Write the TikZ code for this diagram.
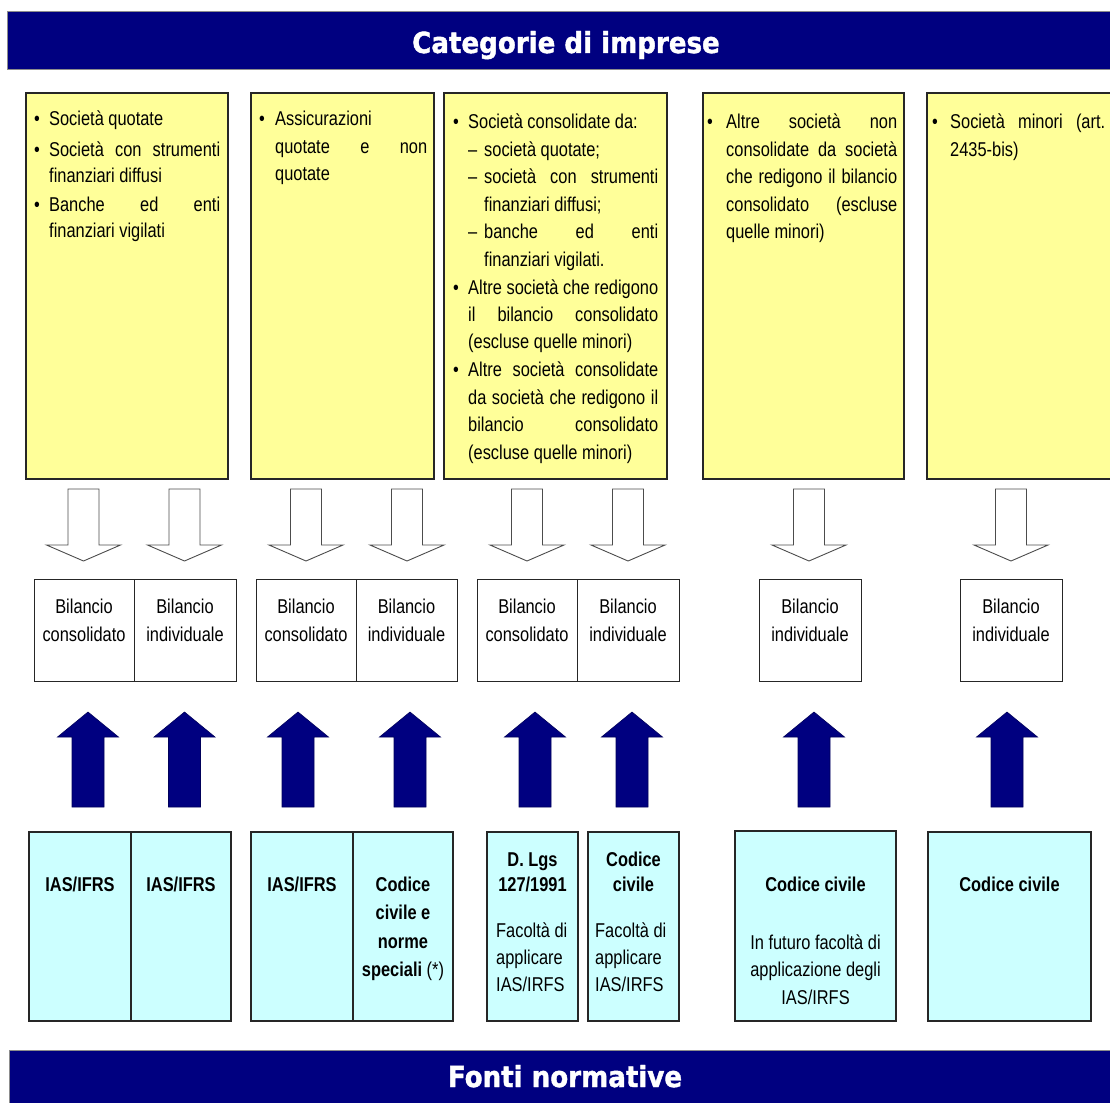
\documentclass[tikz,border=0pt]{standalone}
\usepackage{fontspec}
\setmainfont{Liberation Sans}
\newfontfamily\nf{Liberation Sans}[FakeStretch=0.82]
\newfontfamily\hf{DejaVu Sans Bold}[FakeBold=1.4, FakeStretch=0.9]
\definecolor{navy}{RGB}{0,0,128}
\definecolor{ylw}{RGB}{255,255,153}
\definecolor{cyn}{RGB}{204,255,255}
\newcommand{\bul}[1]{\makebox[#1][l]{\textbullet}}
\newcommand{\jus}[2]{\makebox[#1][s]{#2}}
\newcommand{\tl}[2]{\begin{tabular}[t]{@{}#1@{}}#2\end{tabular}}
\newcommand{\harr}[1]{\draw[harrow] (#1-15.5,489) -- (#1+15.5,489) -- (#1+15.5,545) -- (#1+37,545) -- (#1,561) -- (#1-37,545) -- (#1-15.5,545) -- cycle;}
\newcommand{\uarr}[1]{\draw[sarrow] (#1-16,807) -- (#1+16,807) -- (#1+16,737) -- (#1+30.5,737) -- (#1,712) -- (#1-30.5,737) -- (#1-16,737) -- cycle;}
\newcommand{\yfont}{\nf\fontsize{20}{27.5}\selectfont}
\tikzset{
 ybox/.style={fill=ylw, draw=black!85, line width=1.1pt},
 bbox/.style={fill=cyn, draw=black!85, line width=1.1pt},
 wbox/.style={fill=white, draw=black!85, line width=1pt},
 harrow/.style={fill=white, draw=black!70, line width=0.9pt, line join=miter},
 sarrow/.style={fill=navy, draw=navy!70!black, line width=0.6pt, line join=miter},
 banner/.style={fill=navy, draw=black!45, line width=0.8pt},
 txt/.style={inner sep=0pt, anchor=base, font=\nf\fontsize{20}{28}\selectfont},
 btxt/.style={txt, font=\nf\bfseries\fontsize{20}{25}\selectfont},
 htxt/.style={inner sep=0pt, anchor=base, text=white, font=\hf\fontsize{29}{32}\selectfont},
}
\begin{document}
\begin{tikzpicture}[x=1pt,y=-1pt]
\useasboundingbox (0,0) rectangle (1110,1102);
% banners
\draw[banner] (7,11) rectangle (1112,69);
\node[htxt] (title) at (566,53) {Categorie di imprese};
\draw[banner] (9,1050) rectangle (1112,1110);
\node[htxt] (fonti) at (565,1087) {Fonti normative};
% yellow boxes
\draw[ybox] (26,93) rectangle (228,479);
\draw[ybox] (251,93) rectangle (434,479);
\draw[ybox] (444,93) rectangle (667,479);
\draw[ybox] (703,93) rectangle (904,479);
\draw[ybox] (927,93) rectangle (1112,479);
\node[txt, anchor=base west] (y1) at (34,126) {\begin{minipage}[t]{186pt}\nf\fontsize{20}{25.5}\selectfont
\bul{15pt}Società quotate\\[5.5pt]
\bul{15pt}\jus{171pt}{Società con strumenti}\\
\hspace*{15pt}finanziari diffusi\\[4pt]
\bul{15pt}\jus{171pt}{Banche ed enti}\\
\hspace*{15pt}finanziari vigilati
\end{minipage}};
\node[txt, anchor=base west] (y2) at (259,126) {\begin{minipage}[t]{168pt}\yfont
\bul{16pt}Assicurazioni\\
\hspace*{16pt}\jus{152pt}{quotate e non}\\
\hspace*{16pt}quotate
\end{minipage}};
\node[txt, anchor=base west] (y3) at (453,129) {\begin{minipage}[t]{205pt}\yfont
\bul{15pt}Società consolidate da:\\
\hspace*{15pt}\makebox[16pt][l]{–}società quotate;\\
\hspace*{15pt}\makebox[16pt][l]{–}\jus{174pt}{società con strumenti}\\
\hspace*{31pt}finanziari diffusi;\\
\hspace*{15pt}\makebox[16pt][l]{–}\jus{174pt}{banche ed enti}\\
\hspace*{31pt}finanziari vigilati.\\
\bul{15pt}\jus{190pt}{Altre società che redigono}\\
\hspace*{15pt}\jus{190pt}{il bilancio consolidato}\\
\hspace*{15pt}(escluse quelle minori)\\
\bul{15pt}\jus{190pt}{Altre società consolidate}\\
\hspace*{15pt}\jus{190pt}{da società che redigono il}\\
\hspace*{15pt}\jus{190pt}{bilancio consolidato}\\
\hspace*{15pt}(escluse quelle minori)
\end{minipage}};
\node[txt, anchor=base west] (y4) at (707,129) {\begin{minipage}[t]{190pt}\yfont
\bul{19pt}\jus{171pt}{Altre società non}\\
\hspace*{19pt}\jus{171pt}{consolidate da società}\\
\hspace*{19pt}\jus{171pt}{che redigono il bilancio}\\
\hspace*{19pt}\jus{171pt}{consolidato (escluse}\\
\hspace*{19pt}quelle minori)
\end{minipage}};
\node[txt, anchor=base west] (y5) at (932,129) {\begin{minipage}[t]{173pt}\yfont
\bul{18pt}\jus{155pt}{Società minori (art.}\\
\hspace*{18pt}2435-bis)
\end{minipage}};
% hollow arrows
\harr{83.5}\harr{184.5}\harr{306}\harr{407}\harr{527}\harr{628}\harr{809}\harr{1011}
% bilancio boxes
\draw[wbox] (34,579) rectangle (236,681); \draw[black!85, line width=1pt] (134,579) -- (134,681);
\draw[wbox] (256,579) rectangle (457,681); \draw[black!85, line width=1pt] (356,579) -- (356,681);
\draw[wbox] (477,579) rectangle (679,681); \draw[black!85, line width=1pt] (577,579) -- (577,681);
\draw[wbox] (759,579) rectangle (861,681);
\draw[wbox] (960,579) rectangle (1062,681);
\node[txt] (b1) at (84,613) {\tl{c}{Bilancio\\consolidato}};
\node[txt] (b2) at (185,613) {\tl{c}{Bilancio\\individuale}};
\node[txt] (b3) at (306,613) {\tl{c}{Bilancio\\consolidato}};
\node[txt] (b4) at (406.5,613) {\tl{c}{Bilancio\\individuale}};
\node[txt] (b5) at (527,613) {\tl{c}{Bilancio\\consolidato}};
\node[txt] (b6) at (628,613) {\tl{c}{Bilancio\\individuale}};
\node[txt] (b7) at (810,613) {\tl{c}{Bilancio\\individuale}};
\node[txt] (b8) at (1011,613) {\tl{c}{Bilancio\\individuale}};
% solid arrows
\uarr{88}\uarr{184.5}\uarr{298}\uarr{410}\uarr{535}\uarr{632}\uarr{814}\uarr{1007}
% blue boxes
\draw[bbox] (29,832) rectangle (231,1021); \draw[black!85, line width=1.1pt] (131,832) -- (131,1021);
\draw[bbox] (251,832) rectangle (453,1021); \draw[black!85, line width=1.1pt] (353,832) -- (353,1021);
\draw[bbox] (487,832) rectangle (578,1021);
\draw[bbox] (588,832) rectangle (679,1021);
\draw[bbox] (735,831) rectangle (896,1021);
\draw[bbox] (928,832) rectangle (1091,1021);
\node[btxt] (i1) at (80,891) {IAS/IFRS};
\node[btxt] (i2) at (181,891) {IAS/IFRS};
\node[btxt] (i3) at (302,891) {IAS/IFRS};
\node[btxt, font=\nf\bfseries\fontsize{20}{28.5}\selectfont] (c1) at (403,891) {\tl{c}{Codice\\civile e\\norme\\speciali \mdseries(*)}};
\node[btxt] (d1) at (532.5,866) {\tl{c}{D. Lgs\\127/1991}};
\node[txt, anchor=base west, font=\nf\fontsize{20}{27}\selectfont] (d2) at (496,937) {\tl{l}{Facoltà di\\applicare\\IAS/IRFS}};
\node[btxt] (c2) at (633.5,866) {\tl{c}{Codice\\civile}};
\node[txt, anchor=base west, font=\nf\fontsize{20}{27}\selectfont] (c2b) at (595,937) {\tl{l}{Facoltà di\\applicare\\IAS/IRFS}};
\node[btxt] (c3) at (815.5,891) {Codice civile};
\node[txt, font=\nf\fontsize{20}{27.5}\selectfont] (c3b) at (815.5,949) {\tl{c}{In futuro facoltà di\\applicazione degli\\IAS/IRFS}};
\node[btxt] (c4) at (1009.5,891) {Codice civile};
\end{tikzpicture}
\end{document}
